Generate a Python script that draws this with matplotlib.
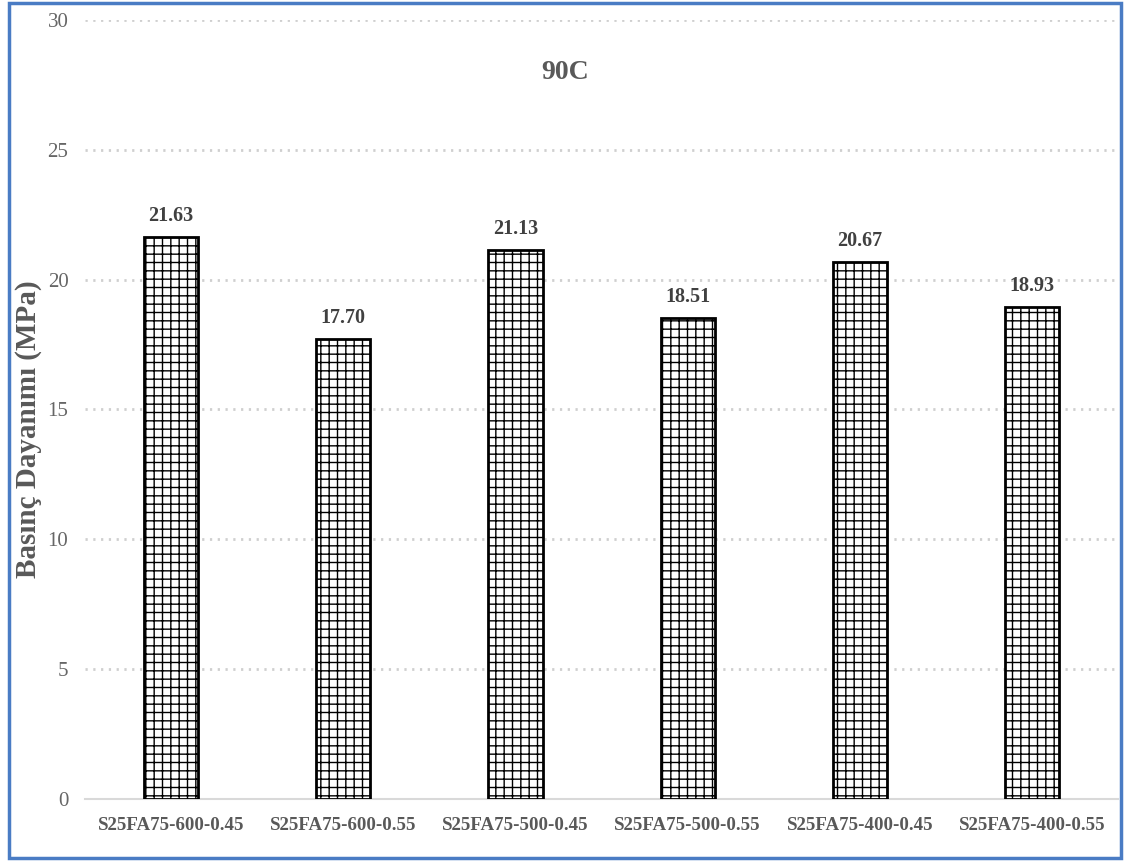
import matplotlib
matplotlib.use("Agg")
import matplotlib.pyplot as plt
from matplotlib.patches import Rectangle
import numpy as np

# Data
categories = ["S25FA75-600-0.45", "S25FA75-600-0.55", "S25FA75-500-0.45",
              "S25FA75-500-0.55", "S25FA75-400-0.45", "S25FA75-400-0.55"]
strength = [21.63, 17.70, 21.13, 18.51, 20.67, 18.93]
value_labels = ["21.63", "17.70", "21.13", "18.51", "20.67", "18.93"]
y_ticks = [0, 5, 10, 15, 20, 25, 30]

plt.rcParams['font.family'] = ['Liberation Serif', 'DejaVu Serif']
plt.rcParams['hatch.linewidth'] = 1.0
plt.rcParams['hatch.color'] = 'black'

fig = plt.figure(figsize=(11.25, 8.61), dpi=100)
ax = fig.add_axes([0.0756, 0.072, 0.9182, 0.9048])

x = np.arange(len(categories))
ax.bar(x, strength, width=0.315, color='white', edgecolor='black',
       linewidth=2, hatch='++', zorder=3)

# value labels above bars
for xi, v, lab in zip(x, strength, value_labels):
    ax.annotate(lab, (xi, v), xytext=(0, 8), textcoords='offset points',
                ha='center', va='bottom', fontsize=14.5, fontweight='bold',
                color='#404040')

ax.set_xlim(-0.5, len(categories) - 0.5)
ax.set_ylim(0, 30)
ax.set_yticks(y_ticks)
ax.set_yticklabels([str(t) for t in y_ticks], fontsize=15, color='#666666')
ax.set_xticks(x)
ax.set_xticklabels(categories, fontsize=13.6, fontweight='bold', color='#595959')
ax.tick_params(axis='both', length=0)
ax.tick_params(axis='y', pad=12)
ax.tick_params(axis='x', pad=13)

ax.grid(axis='y', color='#cfcfcf', linewidth=2, linestyle=(0, (0.8, 2.0)), zorder=0)
for s in ['left', 'right', 'top']:
    ax.spines[s].set_visible(False)
ax.spines['bottom'].set_color('#d9d9d9')
ax.spines['bottom'].set_linewidth(1.5)

ax.set_ylabel("Basınç Dayanımı (MPa)", fontsize=21, fontweight='bold',
              color='#595959')
ax.yaxis.set_label_coords(-0.042, 0.475)

ax.text(0.465, 27.96, "90C", transform=ax.get_yaxis_transform(),
        ha='center', va='center', fontsize=20, fontweight='bold', color='#595959')

# blue frame around the whole figure
fig.patches.append(Rectangle((0.008, 0.003), 0.988, 0.993, transform=fig.transFigure,
                             fill=False, edgecolor='#4a7cc4', linewidth=2.5))

fig.savefig("out.png", dpi=100)
plt.close(fig)
